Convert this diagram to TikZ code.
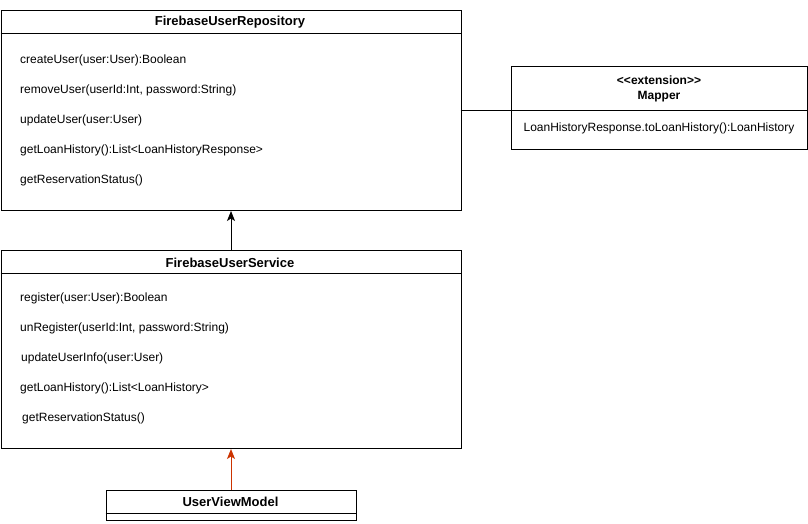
\documentclass[tikz,border=0pt]{standalone}
\usepackage{fontspec}
\setmainfont{Liberation Sans}
\usetikzlibrary{arrows.meta}
\definecolor{arrred}{HTML}{CC3300}
\begin{document}
\begin{tikzpicture}[x=1pt,y=-1pt,
  box/.style={draw=black,line width=1pt,rectangle,inner sep=0pt,anchor=north west},
  title/.style={font=\bfseries\fontsize{13}{15}\selectfont,inner sep=0pt},
  mtitle/.style={font=\bfseries\fontsize{12}{14}\selectfont,inner sep=0pt},
  meth/.style={font=\fontsize{12}{14}\selectfont,anchor=west,inner sep=0pt},
  conn/.style={line width=1pt},
  tip/.style={-{Stealth[width=8pt,length=10pt,inset=2.5pt]}}
]
\useasboundingbox (0,0) rectangle (808,523);
% Repository
\node[box,minimum width=460pt,minimum height=200pt] (repo) at (0.5,10) {};
\draw[conn] (0.5,33) -- (460.5,33);
\node[title] (repoT) at (230,22.5) {FirebaseUserRepository};
\node[meth] (r1) at (20,60) {createUser(user:User):Boolean};
\node[meth] (r2) at (20,90) {removeUser(userId:Int, password:String)};
\node[meth] (r3) at (20,120) {updateUser(user:User)};
\node[meth] (r4) at (20,150) {getLoanHistory():List<LoanHistoryResponse>};
\node[meth] (r5) at (20,180) {getReservationStatus()};
% Mapper
\node[box,minimum width=296pt,minimum height=83pt] (map) at (511,66) {};
\draw[conn] (511,110) -- (807,110);
\node[mtitle,align=center] (mapT) at (659,89) {<{}<extension>{}>\\[1pt]Mapper};
\node[meth,anchor=center] (m1) at (659,128) {LoanHistoryResponse.toLoanHistory():LoanHistory};
\coordinate (mapL) at (511,110);
\coordinate (repoR) at (460.5,110);
\draw[conn] (repoR) -- (mapL);
% Service
\node[box,minimum width=460pt,minimum height=198pt] (serv) at (0.5,250) {};
\draw[conn] (0.5,273) -- (460.5,273);
\node[title] (servT) at (230,262.5) {FirebaseUserService};
\node[meth] (s1) at (20,298) {register(user:User):Boolean};
\node[meth] (s2) at (20,328) {unRegister(userId:Int, password:String)};
\node[meth] (s3) at (21,358) {updateUserInfo(user:User)};
\node[meth] (s4) at (20,388) {getLoanHistory():List<LoanHistory>};
\node[meth] (s5) at (22,418) {getReservationStatus()};
% UserViewModel
\node[box,minimum width=250pt,minimum height=30pt] (uvm) at (105.5,490) {};
\draw[conn] (105.5,513) -- (355.5,513);
\node[title] (uvmT) at (230.5,502) {UserViewModel};
% connectors
\draw[conn,tip] (serv.north) -- (repo.south);
\draw[conn,tip,draw=arrred,fill=arrred] (uvm.north) -- (serv.south);
\end{tikzpicture}
\end{document}
